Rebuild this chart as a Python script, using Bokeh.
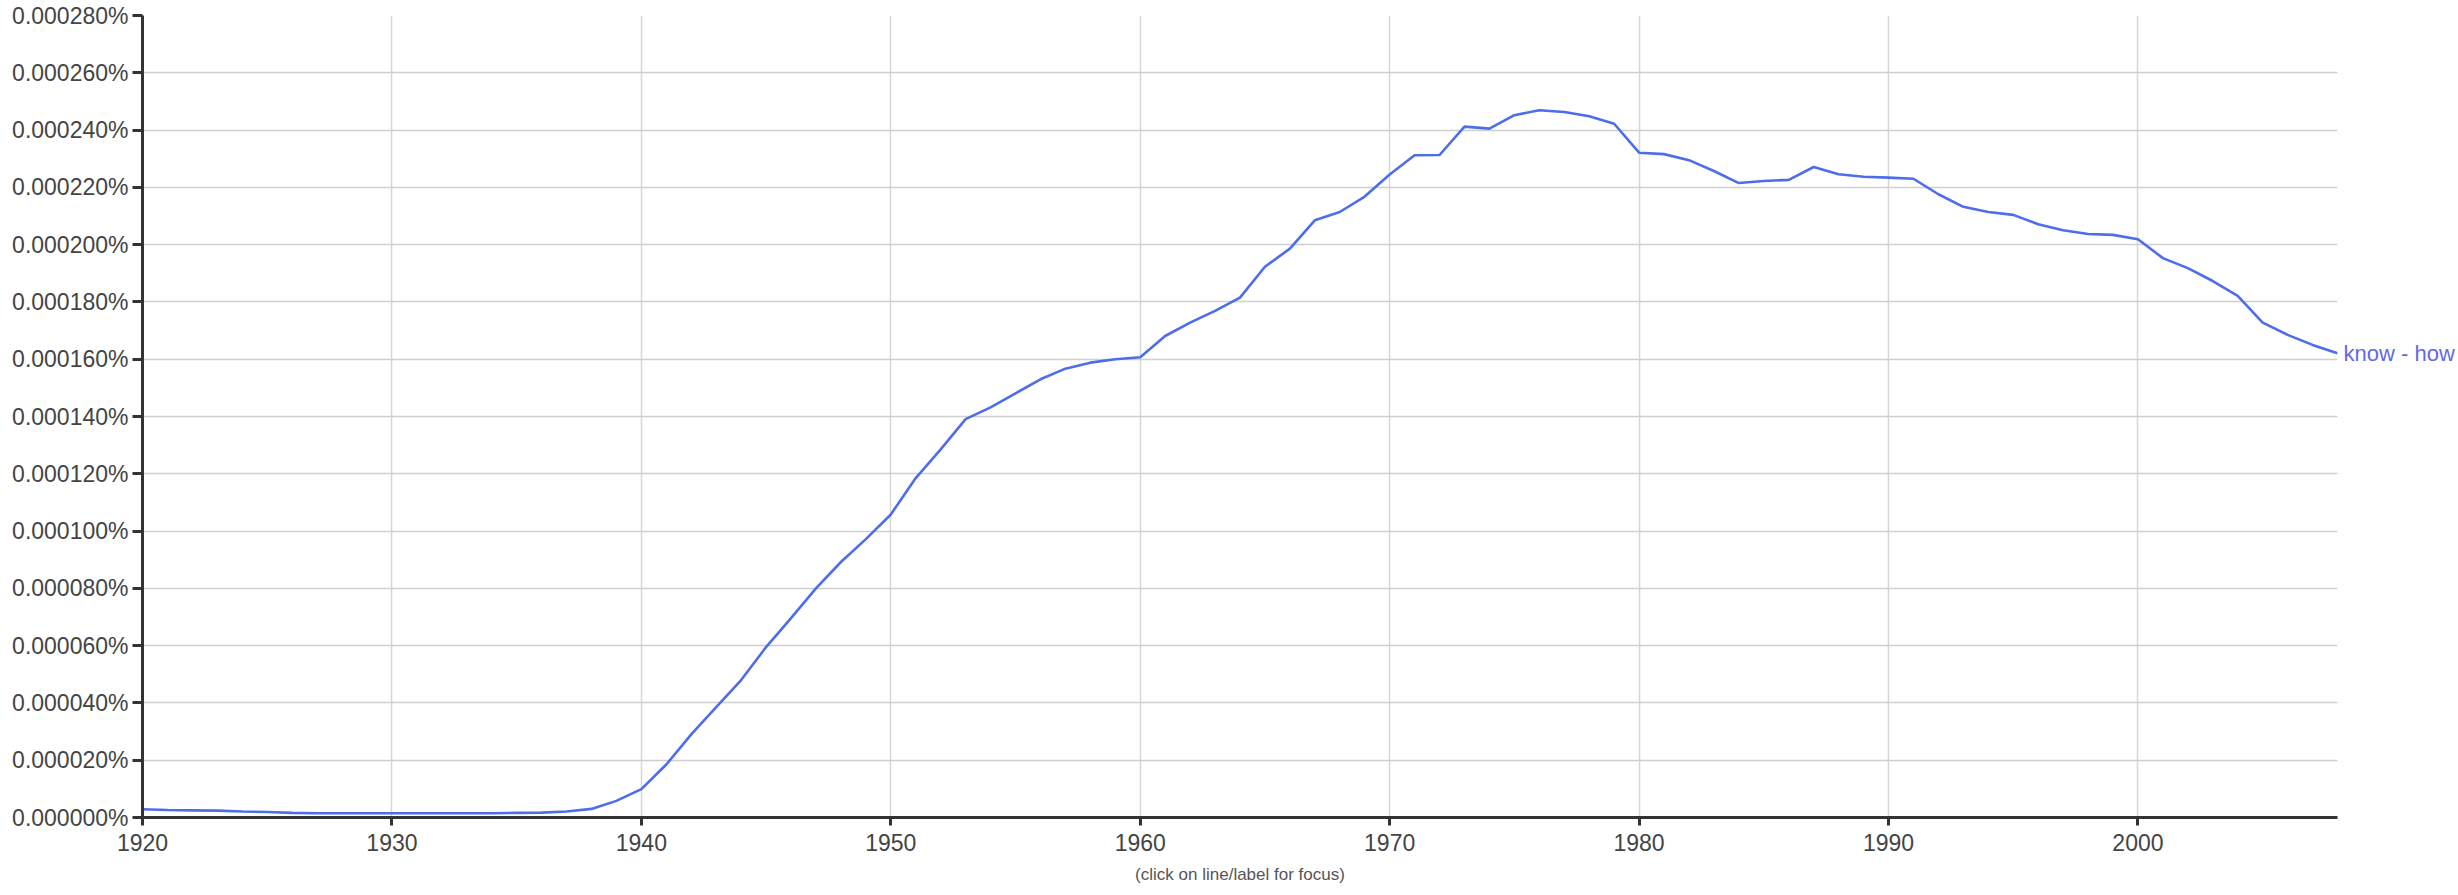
from bokeh.plotting import figure
from bokeh.models import FixedTicker, Title, ColumnDataSource, LinearAxis
from bokeh.embed import file_html
from bokeh.resources import INLINE

# ---- data (frequency in millionths of a percent) ----
series_name = "know - how"
years = list(range(1920, 2009))
freq = [
    2.9, 2.6, 2.5, 2.4, 2.1, 1.9, 1.6, 1.5, 1.5, 1.5,      # 1920-1929
    1.5, 1.5, 1.5, 1.5, 1.5, 1.6, 1.7, 2.1, 3.0, 5.8,      # 1930-1939
    9.9, 18.5, 29.0, 38.5, 48.0, 59.5, 69.6, 80.0, 89.2, 97.2,   # 1940-1949
    105.8, 118.5, 128.5, 139.1, 143.2, 148.1, 153.0, 156.7, 158.8, 160.0,  # 1950-1959
    160.7, 168.1, 172.8, 176.9, 181.5, 192.3, 198.6, 208.5, 211.4, 216.8,  # 1960-1969
    224.5, 231.2, 231.3, 241.2, 240.5, 245.2, 246.9, 246.3, 244.8, 242.2,  # 1970-1979
    232.1, 231.6, 229.5, 225.7, 221.5, 222.2, 222.6, 227.1, 224.6, 223.7,  # 1980-1989
    223.4, 223.0, 217.6, 213.2, 211.4, 210.4, 207.1, 205.0, 203.7, 203.4,  # 1990-1999
    201.9, 195.3, 191.8, 187.3, 182.1, 172.8, 168.5, 165.0, 162.1,         # 2000-2008
]
x_ticks = [1920, 1930, 1940, 1950, 1960, 1970, 1980, 1990, 2000]
y_ticks = [0, 20, 40, 60, 80, 100, 120, 140, 160, 180, 200, 220, 240, 260, 280]
y_tick_labels = [
    "0.000000%", "0.000020%", "0.000040%", "0.000060%", "0.000080%",
    "0.000100%", "0.000120%", "0.000140%", "0.000160%", "0.000180%",
    "0.000200%", "0.000220%", "0.000240%", "0.000260%", "0.000280%",
]
note_text = "(click on line/label for focus)"

FONT = "Liberation Sans"
LINE_COLOR = "#4d6deb"
LABEL_COLOR = "#6269e3"

src = ColumnDataSource(data=dict(year=years, freq=freq))

p = figure(
    frame_width=2195, frame_height=802,
    x_range=(1920, 2008), y_range=(0, 280),
    output_backend="svg", toolbar_location=None,
    min_border_left=142, min_border_right=116,
    min_border_top=15, min_border_bottom=76,
)
p.outline_line_color = None
p.background_fill_color = "white"
p.border_fill_color = "white"

p.line("year", "freq", source=src, line_color=LINE_COLOR, line_width=2.6)

# axes
p.xaxis.ticker = FixedTicker(ticks=x_ticks)
p.yaxis.ticker = FixedTicker(ticks=y_ticks)
p.yaxis.major_label_overrides = {t: l for t, l in zip(y_ticks, y_tick_labels)}
for ax in (p.xaxis[0], p.yaxis[0]):
    ax.axis_line_color = "#333333"
    ax.axis_line_width = 3
    ax.major_tick_line_color = "#333333"
    ax.major_tick_line_width = 3
    ax.major_tick_in = 0
    ax.minor_tick_line_color = None
    ax.major_label_text_font = FONT
    ax.major_label_text_font_size = "23px"
    ax.major_label_text_color = "#444444"
p.xaxis.major_tick_out = 8
p.xaxis.major_label_standoff = 8
p.yaxis.major_tick_out = 10
p.yaxis.major_label_standoff = 4

# series label at the end of the line (as a tick label on a right-side axis)
label_axis = LinearAxis(
    ticker=FixedTicker(ticks=[freq[-1]]),
    major_label_overrides={freq[-1]: series_name},
    axis_line_color=None, major_tick_line_color=None, minor_tick_line_color=None,
    major_tick_out=0, major_tick_in=0, major_label_standoff=6,
    major_label_text_font=FONT, major_label_text_font_size="22px",
    major_label_text_color=LABEL_COLOR,
)
p.add_layout(label_axis, "right")

# grid
p.xgrid.ticker = FixedTicker(ticks=x_ticks)
p.ygrid.ticker = FixedTicker(ticks=y_ticks)
p.xgrid.grid_line_color = "#d6d6d6"
p.xgrid.grid_line_width = 1.5
p.ygrid.grid_line_color = "#cfcfcf"
p.ygrid.grid_line_width = 1.5

# bottom note
p.add_layout(Title(
    text=note_text, align="center", text_font=FONT,
    text_font_size="17px", text_font_style="normal",
    text_color="#555555", standoff=18,
), "below")

open("out.html", "w").write(file_html(p, INLINE))
